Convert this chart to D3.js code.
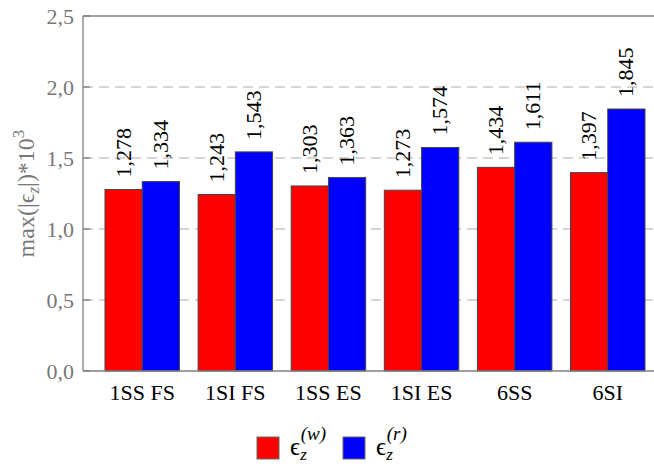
<!DOCTYPE html>
<html>
<head>
<meta charset="utf-8">
<script src="https://cdn.jsdelivr.net/npm/d3@7"></script>
<style>
  body { margin: 0; background: #fff; }
</style>
</head>
<body>
<div id="chart"></div>
<script>
// data
const categories = ["1SS FS", "1SI FS", "1SS ES", "1SI ES", "6SS", "6SI"];
const seriesW = [1.278, 1.243, 1.303, 1.273, 1.434, 1.397];
const seriesR = [1.334, 1.543, 1.363, 1.574, 1.611, 1.845];
const yTicks = [0, 0.5, 1.0, 1.5, 2.0, 2.5];

const W = 654, H = 467;
const plotLeft = 83, plotTop = 16, plotBottom = 371;
const serif = '"Liberation Serif"';

const svg = d3.select("#chart").append("svg")
    .attr("width", W).attr("height", H)
    .style("font-family", serif);

const loc = d3.formatLocale({ decimal: ",", thousands: ".", grouping: [3], currency: ["", ""] });
const fmtTick = loc.format(".1f");
const fmtVal = loc.format(".3f");

const x = d3.scaleBand()
    .domain(categories)
    .range([105, 645])
    .paddingInner(0.2)
    .paddingOuter(0);

const y = d3.scaleLinear()
    .domain([0, 2.5])
    .range([plotBottom, plotTop]);

// grid lines
svg.append("g")
    .selectAll("line")
    .data(yTicks.filter(d => d > 0 && d < 2.5))
    .join("line")
    .attr("x1", plotLeft).attr("x2", W)
    .attr("y1", d => y(d)).attr("y2", d => y(d))
    .attr("stroke", "#aaa")
    .attr("stroke-width", 1)
    .attr("stroke-dasharray", "10,6");

// bars
const groups = categories.map((c, i) => ({ cat: c, w: seriesW[i], r: seriesR[i] }));
const half = x.bandwidth() / 2;

const g = svg.append("g");
g.selectAll(".barW")
    .data(groups)
    .join("rect")
    .attr("x", d => x(d.cat))
    .attr("y", d => y(d.w))
    .attr("width", half)
    .attr("height", d => y(0) - y(d.w))
    .attr("fill", "#ff0000")
    .attr("stroke", "#444")
    .attr("stroke-width", 1);

g.selectAll(".barR")
    .data(groups)
    .join("rect")
    .attr("x", d => x(d.cat) + half)
    .attr("y", d => y(d.r))
    .attr("width", half)
    .attr("height", d => y(0) - y(d.r))
    .attr("fill", "#0000ff")
    .attr("stroke", "#444")
    .attr("stroke-width", 1);

// value labels (rotated)
function valueLabels(key, off) {
    svg.append("g").selectAll("text")
        .data(groups)
        .join("text")
        .attr("transform", d => `translate(${x(d.cat) + off + half / 2 + 7},${y(d[key]) - 12}) rotate(-90)`)
        .attr("text-anchor", "start")
        .attr("font-size", 22)
        .style("font-family", serif)
        .attr("fill", "#000")
        .text(d => fmtVal(d[key]));
}
valueLabels("w", 0);
valueLabels("r", half);

// axes
const axisCol = "#808080";
svg.append("line")
    .attr("x1", plotLeft).attr("x2", plotLeft)
    .attr("y1", plotTop).attr("y2", plotBottom)
    .attr("stroke", axisCol).attr("stroke-width", 1.3);
svg.append("line")
    .attr("x1", plotLeft).attr("x2", W)
    .attr("y1", plotBottom).attr("y2", plotBottom)
    .attr("stroke", axisCol).attr("stroke-width", 1.3);
svg.append("line")
    .attr("x1", plotLeft).attr("x2", W)
    .attr("y1", plotTop).attr("y2", plotTop)
    .attr("stroke", axisCol).attr("stroke-width", 1.3);

// y ticks
const yt = svg.append("g");
yt.selectAll("line")
    .data(yTicks)
    .join("line")
    .attr("x1", plotLeft).attr("x2", plotLeft + 7)
    .attr("y1", d => y(d)).attr("y2", d => y(d))
    .attr("stroke", axisCol).attr("stroke-width", 1.3);
yt.selectAll("text")
    .data(yTicks)
    .join("text")
    .attr("x", plotLeft - 9)
    .attr("y", d => y(d))
    .attr("dy", "0.35em")
    .attr("text-anchor", "end")
    .attr("font-size", 22)
    .style("font-family", serif)
    .attr("fill", "#777")
    .text(d => fmtTick(d));

// x labels
svg.append("g").selectAll("text")
    .data(categories)
    .join("text")
    .attr("x", d => x(d) + x.bandwidth() / 2)
    .attr("y", 400)
    .attr("text-anchor", "middle")
    .attr("font-size", 22)
    .style("font-family", serif)
    .attr("fill", "#000")
    .text(d => d);

// y axis title
const yl = svg.append("text")
    .attr("transform", `translate(34,${(plotTop + plotBottom) / 2}) rotate(-90)`)
    .attr("text-anchor", "middle")
    .attr("font-size", 24)
    .style("font-family", serif)
    .attr("fill", "#777");
yl.append("tspan").text("max(|\u03F5");
yl.append("tspan").attr("font-style", "italic").attr("font-size", 17).attr("dy", 5).text("z");
yl.append("tspan").attr("dy", -5).text("|)*10");
yl.append("tspan").attr("font-size", 17).attr("dy", -10).text("3");

// legend
const legend = [
    { color: "#ff0000", sup: "(w)", x: 257 },
    { color: "#0000ff", sup: "(r)", x: 343 }
];
const lg = svg.append("g").selectAll("g")
    .data(legend)
    .join("g")
    .attr("transform", d => `translate(${d.x},437)`);
lg.append("rect")
    .attr("width", 22).attr("height", 22)
    .attr("fill", d => d.color)
    .attr("stroke", "#666").attr("stroke-width", 1);
const lt = lg.append("text")
    .attr("x", 33).attr("y", 18)
    .attr("font-size", 25)
    .style("font-family", serif)
    .attr("fill", "#000");
lt.append("tspan").text("\u03F5");
lt.append("tspan").attr("font-style", "italic").attr("font-size", 17).attr("dy", 5).text("z");
lt.append("tspan").attr("font-style", "italic").attr("font-size", 19).attr("dx", -6).attr("dy", -20).text(d => d.sup);
</script>
</body>
</html>
